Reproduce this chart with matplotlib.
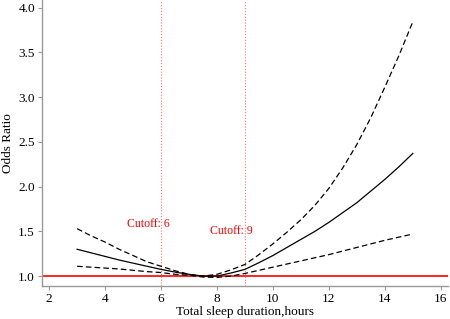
import numpy as np
import matplotlib
matplotlib.use("Agg")
import matplotlib.pyplot as plt

plt.rcParams['font.family'] = ['Liberation Serif', 'DejaVu Serif']

# sleep hours and odds ratio estimates
hours = [3, 3.5, 4, 4.5, 5, 5.5, 6, 6.5, 7, 7.5, 8, 8.5, 9, 9.5, 10,
         10.5, 11, 11.5, 12, 12.5, 13, 13.5, 14, 14.5, 15]
or_est = [1.30, 1.26, 1.22, 1.18, 1.145, 1.11, 1.075, 1.045, 1.02, 1.0, 1.0, 1.035, 1.075, 1.15, 1.23,
          1.32, 1.41, 1.50, 1.60, 1.71, 1.82, 1.95, 2.08, 2.22, 2.37]
or_upper = [1.53, 1.45, 1.38, 1.30, 1.23, 1.16, 1.11, 1.06, 1.02, 1.0, 1.02, 1.07, 1.13, 1.24, 1.36,
            1.49, 1.63, 1.79, 1.98, 2.21, 2.47, 2.77, 3.11, 3.46, 3.84]
or_lower = [1.11, 1.10, 1.09, 1.08, 1.065, 1.05, 1.04, 1.02, 1.01, 0.99, 0.985, 1.0, 1.03, 1.065, 1.10,
            1.135, 1.17, 1.205, 1.24, 1.28, 1.32, 1.36, 1.40, 1.435, 1.47]

cutoffs = [6, 9]
cutoff_labels = ["Cutoff: 6", "Cutoff: 9"]

fig = plt.figure(figsize=(4.5, 3.19), dpi=100)
ax = fig.add_axes([0.093, 0.103, 0.902, 0.897])

ax.axhline(1.0, color='red', lw=1.2, zorder=1)
for c in cutoffs:
    ax.axvline(c, color='#ff7070', lw=0.8, ls=(0, (1, 1.6)), zorder=1)

ax.plot(hours, or_est, color='black', lw=0.9)
ax.plot(hours, or_upper, color='black', lw=0.9, ls=(0, (4.5, 2.5)))
ax.plot(hours, or_lower, color='black', lw=0.9, ls=(0, (4.5, 2.5)))

ax.text(5.54, 1.58, cutoff_labels[0], color='red', fontsize=8.5, ha='center', va='center')
ax.text(8.52, 1.50, cutoff_labels[1], color='red', fontsize=8.5, ha='center', va='center')

ax.set_xlim(1.74, 16.25)
ax.set_ylim(0.888, 4.084)
ax.set_xticks([2, 4, 6, 8, 10, 12, 14, 16])
ax.set_yticks([1.0, 1.5, 2.0, 2.5, 3.0, 3.5, 4.0])
ax.set_yticklabels(["1.0", "1.5", "2.0", "2.5", "3.0", "3.5", "4.0"])

for s in ['top', 'right']:
    ax.spines[s].set_visible(False)
for s in ['left', 'bottom']:
    ax.spines[s].set_color('#999999')
    ax.spines[s].set_linewidth(1.0)
ax.tick_params(colors='#999999', labelcolor='black', labelsize=9.5, length=3, width=0.8, pad=2)

ax.set_xlabel("Total sleep duration,hours", fontsize=9.5, labelpad=1)
ax.set_ylabel("Odds Ratio", fontsize=9.5, labelpad=3)

fig.savefig("out.png", dpi=100)
